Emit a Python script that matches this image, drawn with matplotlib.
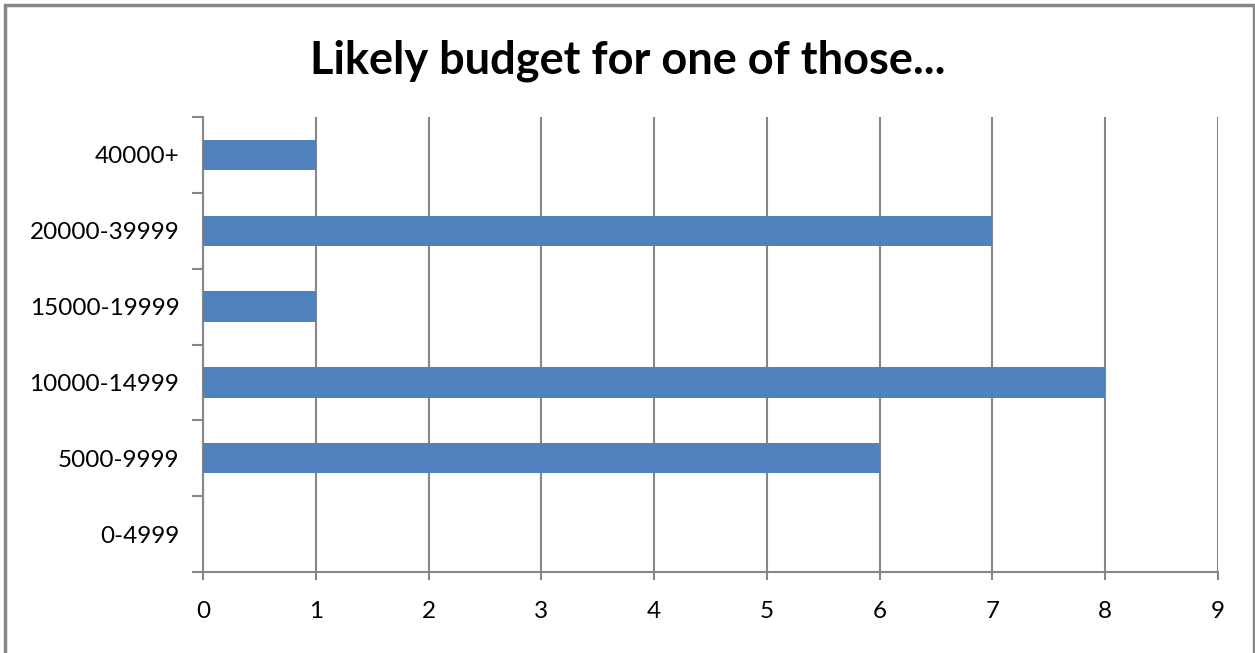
import matplotlib
matplotlib.use('Agg')
import matplotlib.pyplot as plt
from matplotlib.patches import Rectangle

categories = ['0-4999', '5000-9999', '10000-14999', '15000-19999', '20000-39999', '40000+']
counts = [0, 6, 8, 1, 7, 1]
x_ticks = list(range(0, 10))

plt.rcParams['font.family'] = ['Lato', 'DejaVu Sans']

fig = plt.figure(figsize=(12.55, 6.53), dpi=100)
ax = fig.add_axes([203 / 1255, 1 - 572 / 653, (1218 - 203) / 1255, (572 - 117) / 653])

ypos = list(range(len(categories)))
ax.barh(ypos, counts, height=0.4, color='#4F81BD', zorder=3)

ax.set_xlim(0, 9)
ax.set_ylim(-0.5, len(categories) - 0.5)
ax.set_xticks(x_ticks)
ax.set_xticklabels([str(v) for v in x_ticks], fontsize=17.5)
ax.set_yticks(ypos)
ax.set_yticklabels(categories, fontsize=17.5)
ax.set_yticks([i - 0.5 for i in range(len(categories) + 1)], minor=True)

ax.grid(axis='x', color='#878787', linewidth=1.5, zorder=0)
for side in ['top', 'right']:
    ax.spines[side].set_visible(False)
for side in ['left', 'bottom']:
    ax.spines[side].set_color('#878787')
    ax.spines[side].set_linewidth(1.5)

ax.tick_params(axis='y', which='major', length=0, pad=17)
ax.tick_params(axis='y', which='minor', length=8, width=1.5, color='#878787')
ax.tick_params(axis='x', length=6, width=1.5, color='#878787', pad=15)

fig.text(0.5, 1 - 61 / 653, 'Likely budget for one of those...', ha='center', va='center',
         fontsize=32.5, fontweight='bold')

fig.patches.append(Rectangle((5 / 1255, -0.02), 1249 / 1255, 1 - 5 / 653 + 0.02,
                             transform=fig.transFigure, fill=False,
                             edgecolor='#878787', linewidth=2.5))

fig.savefig('out.png', dpi=100)
